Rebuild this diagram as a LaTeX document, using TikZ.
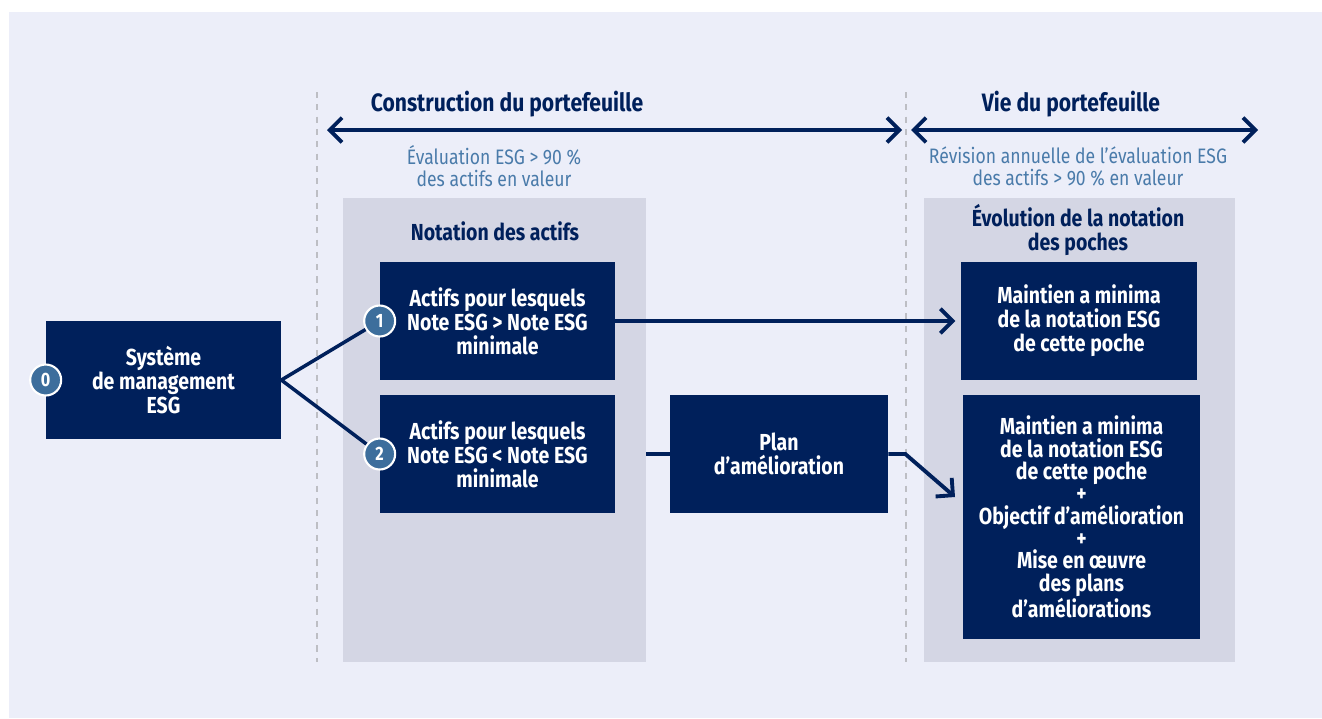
\documentclass[tikz,border=0pt]{standalone}
\usepackage{fontspec}
\setmainfont{Fira Sans}[FakeStretch=0.84]
\usetikzlibrary{arrows.meta,positioning}
\definecolor{navy}{HTML}{00205B}
\definecolor{fond}{HTML}{ECEEF9}
\definecolor{gris}{HTML}{D4D6E4}
\definecolor{bleunum}{HTML}{3D6E9C}
\definecolor{bleutxt}{HTML}{4A7BAA}
\definecolor{pointille}{HTML}{BDBEC4}

\begin{document}
\begin{tikzpicture}[x=0.02cm,y=-0.02cm,
    box/.style={fill=navy,text=white,font=\bfseries\fontsize{13.2}{13.6}\selectfont,align=center,inner sep=0pt,minimum width=4.7cm,minimum height=2.36cm},
    panel/.style={fill=gris,inner sep=0pt,minimum height=9.28cm},
    num/.style={circle,fill=bleunum,draw=white,line width=1.2pt,text=white,font=\bfseries\fontsize{11}{12}\selectfont,minimum size=0.62cm,inner sep=0pt},
    titre/.style={text=navy,font=\bfseries\fontsize{14.3}{15}\selectfont,align=center},
    soustitre/.style={text=bleutxt,font=\fontsize{11.9}{12.5}\selectfont,align=center},
    fleche/.style={draw=navy,line width=2.2pt,arrows={-Straight Barb[length=7pt,width=14pt]}},
    trait/.style={draw=navy,line width=2pt},
    sep/.style={draw=pointille,line width=1.2pt,dash pattern=on 3.5pt off 3.5pt}]
    \useasboundingbox (0,0) rectangle (1322,718);
    \fill[fond] (9,12) rectangle (1322,718);
    % separateurs
    \draw[sep] (317,92) -- (317,662);
    \draw[sep] (906,92) -- (906,662);
    % phases
    \node[titre] (tcons) at (507,104) {Construction du portefeuille};
    \node[titre] (tvie) at (1071,104) {Vie du portefeuille};
    \coordinate (g1) at (327,130);
    \coordinate (d1) at (902,130);
    \coordinate (g2) at (911,130);
    \coordinate (d2) at (1258,130);
    \draw[fleche,arrows={Straight Barb[length=7pt,width=14pt]-Straight Barb[length=7pt,width=14pt]}] (g1) -- (d1);
    \draw[fleche,arrows={Straight Barb[length=7pt,width=14pt]-Straight Barb[length=7pt,width=14pt]}] (g2) -- (d2);
    \node[soustitre] (scons) at (494,166) {Évaluation ESG > 90 \%\\des actifs en valeur};
    \node[soustitre] (svie) at (1078,166) {Révision annuelle de l’évaluation ESG\\des actifs > 90 \% en valeur};
    % zones grises
    \node[panel,minimum width=6.06cm] (pcons) at (494.5,430) {};
    \node[panel,minimum width=6.22cm] (pvie) at (1079.5,430) {};
    \node[titre,font=\bfseries\fontsize{13.2}{13.6}\selectfont] at (495,231) {Notation des actifs};
    \node[titre,font=\bfseries\fontsize{13.2}{13.6}\selectfont] at (1078,230) {Évolution de la notation\\des poches};
    % boites
    \node[box] (sys) at (163.5,380) {Système\\de management\\ESG};
    \node[box] (act1) at (497.5,321) {Actifs pour lesquels\\Note ESG > Note ESG\\minimale};
    \node[box] (act2) at (497.5,454) {Actifs pour lesquels\\Note ESG < Note ESG\\minimale};
    \node[box,minimum width=4.36cm] (plan) at (779,454) {Plan\\d’amélioration};
    \node[box,minimum width=4.72cm] (main1) at (1079,321) {Maintien a minima\\de la notation ESG\\de cette poche};
    \node[box,minimum width=4.74cm,minimum height=4.88cm,font=\bfseries\fontsize{13.2}{12.7}\selectfont] (main2) at (1081.5,517) {Maintien a minima\\de la notation ESG\\de cette poche\\+\\Objectif d’amélioration\\+\\Mise en œuvre\\des plans\\d’améliorations};
    % numeros
    \node[num] (c0) at (sys.west) {0};
    \node[num] (c1) at (act1.west) {1};
    \node[num] (c2) at (act2.west) {2};
    % liaisons
    \draw[trait] (sys.east) -- (c1);
    \draw[trait] (sys.east) -- (c2);
    \draw[fleche,shorten >=3pt] (act1.east) -- (main1.west);
    \draw[trait] (pcons.east |- plan.west) -- (plan.west);
    \coordinate (pointe) at (955,497);
    \draw[fleche] (plan.east) -- ++(17,0) -- (pointe);
\end{tikzpicture}
\end{document}
